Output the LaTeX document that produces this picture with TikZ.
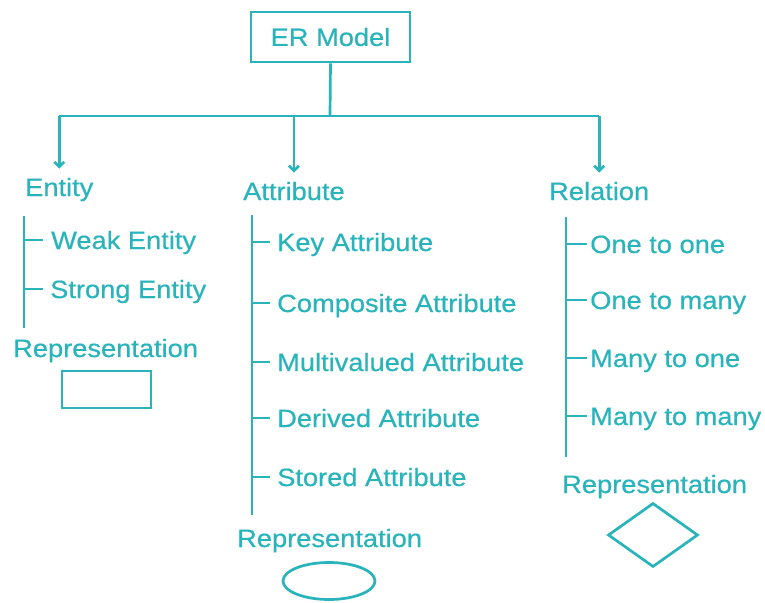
\documentclass[tikz,border=0pt]{standalone}
\usepackage{fontspec}
\setmainfont{Liberation Sans}[FakeStretch=1.09,FakeBold=0.5]
\usetikzlibrary{arrows.meta,shapes.geometric}
\definecolor{teal1}{RGB}{40,180,186}
\begin{document}
\begin{tikzpicture}[x=1pt,y=-1pt,
  line/.style={draw=teal1,line width=2.7pt},
  txt/.style={text=teal1,font=\fontsize{25}{29}\selectfont,inner sep=0pt},
  item/.style={txt,anchor=west,inner ysep=0pt,text height=18pt,text depth=0pt},
  head/.style={txt,anchor=base west},
  arr/.style={line,-{Straight Barb[length=5pt,width=10pt]},shorten >=9pt},
  shapebox/.style={draw=teal1,line width=2.7pt,inner sep=0pt}]
\useasboundingbox (0,0) rectangle (765,602);
% root
\node[txt,shapebox,minimum width=159pt,minimum height=50pt] (er) at (330.5,37) {ER Model};
% headings
\node[head] (ent) at (25,196) {Entity};
\node[head] (att) at (243,200) {Attribute};
\node[head] (rel) at (549,200) {Relation};
\coordinate (j) at (330,116);
\draw[line] (er.south) -- (j);
\draw[line] (ent.north |- j) -- (rel.north |- j);
\draw[arr] (ent.north |- j) -- (ent.north);
\draw[arr] (att.north |- j) -- (att.north);
\draw[arr] (rel.north |- j) -- (rel.north);
% Entity column
\coordinate (et) at (24,216);
\coordinate (eb) at (24,328);
\draw[line] (et) -- (eb);
\node[item,inner xsep=8pt] (weak) at (43,240) {Weak Entity};
\node[item,inner xsep=7pt] (strong) at (43,289) {Strong Entity};
\foreach \n in {weak,strong} \draw[line] (\n.west -| et) -- (\n.west);
\node[head] (erep) at (13,357) {Representation};
\node[shapebox,minimum width=89pt,minimum height=37pt] (erect) at (106.5,389.5) {};
% Attribute column
\coordinate (at) at (252,215);
\coordinate (ab) at (252,515);
\draw[line] (at) -- (ab);
\node[item,inner xsep=7pt] (key) at (270,242) {Key Attribute};
\node[item,inner xsep=7pt] (comp) at (270,303) {Composite Attribute};
\node[item,inner xsep=7pt] (multi) at (270,362) {Multivalued Attribute};
\node[item,inner xsep=7pt] (der) at (270,418) {Derived Attribute};
\node[item,inner xsep=7pt] (sto) at (270,477) {Stored Attribute};
\foreach \n in {key,comp,multi,der,sto} \draw[line] (\n.west -| at) -- (\n.west);
\node[head] (arep) at (237,547) {Representation};
\node[shapebox,ellipse,minimum width=92pt,minimum height=37pt] (aell) at (329,581) {};
% Relation column
\coordinate (rt) at (566,217);
\coordinate (rb) at (566,457);
\draw[line] (rt) -- (rb);
\node[item,inner xsep=3pt] (oo) at (587,244) {One to one};
\node[item,inner xsep=3pt] (om) at (587,300) {One to many};
\node[item,inner xsep=3pt] (mo) at (587,358) {Many to one};
\node[item,inner xsep=3pt] (mm) at (587,416) {Many to many};
\foreach \n in {oo,om,mo,mm} \draw[line] (\n.west -| rt) -- (\n.west);
\node[head] (rrep) at (562,493) {Representation};
\node[shapebox,diamond,minimum width=90pt,minimum height=64pt] (rdia) at (653,535) {};
\end{tikzpicture}
\end{document}
